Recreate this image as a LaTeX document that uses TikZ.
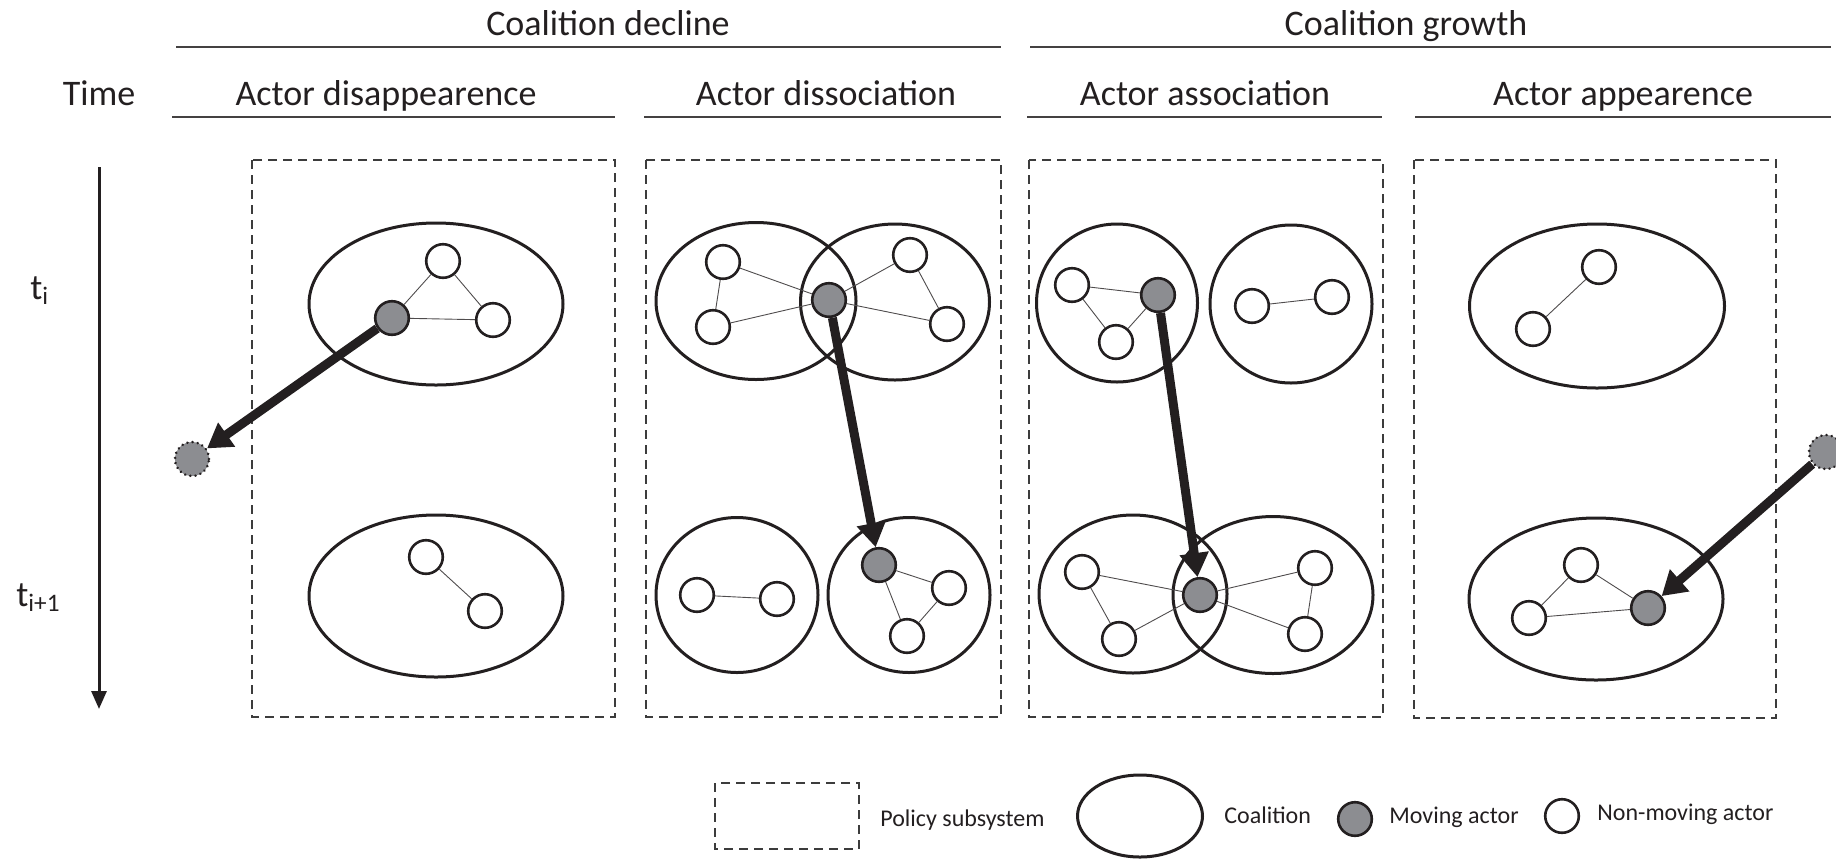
\documentclass[tikz,border=0pt]{standalone}
\usepackage{fontspec}
\setmainfont{Carlito}
\usetikzlibrary{shapes.geometric,arrows.meta}

\definecolor{ink}{RGB}{35,31,32}
\definecolor{boxgray}{RGB}{60,60,60}
\definecolor{movegray}{RGB}{140,141,145}

\tikzset{
  subsys/.style={draw=boxgray, line width=1pt, dash pattern=on 4.5pt off 3pt},
  coal/.style={ellipse, draw=ink, line width=1.5pt, inner sep=0pt},
  actor/.style={circle, draw=ink, line width=1.3pt, fill=white, minimum size=16.8pt, inner sep=0pt},
  mover/.style={actor, fill=movegray},
  ghost/.style={circle, draw=ink, fill=movegray, line width=1.4pt, line cap=round,
                dash pattern=on 0.01pt off 2.6pt, minimum size=17pt, inner sep=0pt},
  tie/.style={draw=ink!80, line width=0.45pt},
  moveline/.style={draw=ink, line width=4.5pt, -{Triangle[length=12pt,width=14pt]}},
  rulex/.style={draw=ink!85, line width=0.8pt},
  head/.style={font=\fontsize{18}{20}\selectfont, text=ink, inner sep=0pt, anchor=base},
  legtext/.style={font=\fontsize{12}{14}\selectfont, text=ink, inner sep=0pt, anchor=west},
}

\begin{document}
\begin{tikzpicture}[x=0.5pt, y=-0.5pt]
\useasboundingbox (0,0) rectangle (1836,858);

% ---- column headings ----
\node[head] (hdecl) at (608,35) {Coalition decline};
\node[head] (hgrow) at (1406,35) {Coalition growth};
\draw[rulex] (176,47) -- (1001,47);
\draw[rulex] (1030,47) -- (1831,47);

\node[head] (htime) at (99,105) {Time};
\node[head] (hdis)  at (386,105) {Actor disappearence};
\node[head] (hdiss) at (826,105) {Actor dissociation};
\node[head] (hass)  at (1205,105) {Actor association};
\node[head] (happ)  at (1623,105) {Actor appearence};
\draw[rulex] (172,117) -- (615,117);
\draw[rulex] (644,117) -- (1001,117);
\draw[rulex] (1027,117) -- (1382,117);
\draw[rulex] (1415,117) -- (1831,117);

% ---- time axis ----
\coordinate (tstart) at (99,167);
\coordinate (tend) at (99,709);
\draw[draw=ink, line width=1.5pt, -{Triangle[length=9pt,width=7.5pt]}] (tstart) -- (tend);
\node[head, anchor=base west] (ti) at (30,299) {t\textsubscript{i}};
\node[head, anchor=base west] (tii) at (16,606) {t\textsubscript{i+1}};

% ---- policy subsystems ----
\draw[subsys] (252,160) rectangle (615,717);
\draw[subsys] (646,160) rectangle (1001,717);
\draw[subsys] (1029,160) rectangle (1383,717);
\draw[subsys] (1414,160) rectangle (1776,718);

% ---- coalitions ----
\node[coal, minimum width=127pt, minimum height=81pt] (p1u) at (436,304) {};
\node[coal, minimum width=127pt, minimum height=81pt] (p1l) at (436,596) {};

\node[coal, minimum width=100pt, minimum height=78.5pt] (p2ul) at (756,301) {};
\node[coal, minimum width=94.5pt, minimum height=78pt] (p2ur) at (895,302) {};
\node[coal, minimum width=81pt, minimum height=77.5pt] (p2ll) at (737,595) {};
\node[coal, minimum width=81pt, minimum height=77.5pt] (p2lr) at (909,595) {};

\node[coal, minimum width=80.5pt, minimum height=79pt] (p3ul) at (1117,303) {};
\node[coal, minimum width=81pt, minimum height=79pt] (p3ur) at (1291,304) {};
\node[coal, minimum width=94pt, minimum height=79pt] (p3ll) at (1133,594) {};
\node[coal, minimum width=100pt, minimum height=78.5pt] (p3lr) at (1273,595) {};

\node[coal, minimum width=127.5pt, minimum height=82pt] (p4u) at (1597,306) {};
\node[coal, minimum width=127pt, minimum height=81pt] (p4l) at (1596,599) {};

% ---- actors: disappearance ----
\node[actor] (a1) at (443,261) {};
\node[actor] (a2) at (493,320) {};
\node[mover] (m1) at (392,318) {};
\node[actor] (b1) at (426,557) {};
\node[actor] (b2) at (485,611) {};
\node[ghost] (g1) at (192,459) {};

% ---- actors: dissociation ----
\node[actor] (c1) at (723,262) {};
\node[actor] (c2) at (713,327) {};
\node[mover] (m2) at (829,300) {};
\node[actor] (c3) at (910,255) {};
\node[actor] (c4) at (947,324) {};
\node[actor] (d1) at (697,595) {};
\node[actor] (d2) at (777,599) {};
\node[mover] (m3) at (879,565) {};
\node[actor] (d3) at (949,588) {};
\node[actor] (d4) at (907,636) {};

% ---- actors: association ----
\node[actor] (e1) at (1072,285) {};
\node[mover] (m4) at (1158,295) {};
\node[actor] (e2) at (1116,342) {};
\node[actor] (e3) at (1252,306) {};
\node[actor] (e4) at (1332,297) {};
\node[actor] (f1) at (1082,572) {};
\node[actor] (f2) at (1119,639) {};
\node[mover] (m5) at (1200,595) {};
\node[actor] (f3) at (1315,568) {};
\node[actor] (f4) at (1305,634) {};

% ---- actors: appearance ----
\node[actor] (h1) at (1599,267) {};
\node[actor] (h2) at (1533,329) {};
\node[actor] (k1) at (1581,565) {};
\node[actor] (k2) at (1529,618) {};
\node[mover] (m6) at (1648,608) {};
\node[ghost] (g2) at (1826,452) {};

% ---- ties between actors ----
\draw[tie] (a1) -- (a2) (a1) -- (m1) (m1) -- (a2);
\draw[tie] (b1) -- (b2);
\draw[tie] (c1) -- (c2) (c1) -- (m2) (c2) -- (m2) (m2) -- (c3) (m2) -- (c4) (c3) -- (c4);
\draw[tie] (d1) -- (d2);
\draw[tie] (m3) -- (d3) (m3) -- (d4) (d3) -- (d4);
\draw[tie] (e1) -- (m4) (e1) -- (e2) (e2) -- (m4);
\draw[tie] (e3) -- (e4);
\draw[tie] (f1) -- (m5) (f2) -- (m5) (f1) -- (f2) (m5) -- (f3) (m5) -- (f4) (f3) -- (f4);
\draw[tie] (h1) -- (h2);
\draw[tie] (k1) -- (k2) (k1) -- (m6) (k2) -- (m6);

% ---- moves ----
\draw[moveline] (m1) -- (g1);
\draw[moveline] (m2) -- (m3);
\draw[moveline] (m4) -- (m5);
\draw[moveline] (g2) -- (m6);

% ---- legend ----
\draw[subsys] (715,783) rectangle (859,849);
\node[legtext] (lsub) at (880,820) {Policy subsystem};
\node[coal, minimum width=62.5pt, minimum height=41pt] (lcoal) at (1140,816) {};
\node[legtext] (lcoaltxt) at (1224,815) {Coalition};
\node[mover] (lmove) at (1355,819) {};
\node[legtext] (lmovetxt) at (1389,817) {Moving actor};
\node[actor] (lstay) at (1562,816) {};
\node[legtext] (lstaytxt) at (1597,814) {Non-moving actor};
\end{tikzpicture}
\end{document}
